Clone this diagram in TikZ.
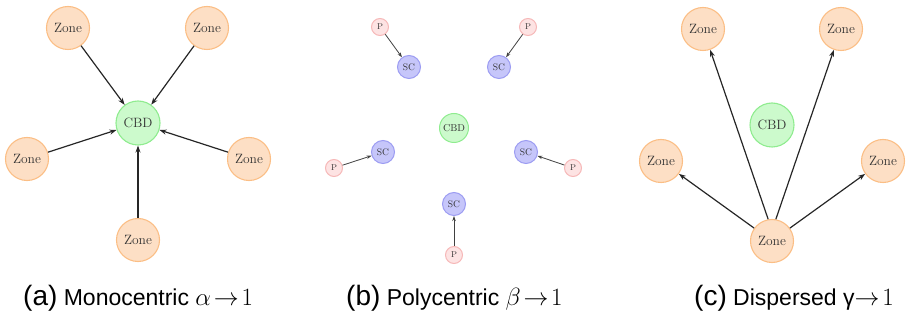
\documentclass[tikz,border=0pt]{standalone}
\usepackage{fontspec}
\usetikzlibrary{arrows.meta}
\newfontfamily\capfont{Liberation Sans}
\definecolor{zfill}{HTML}{FDDFC5}
\definecolor{zdraw}{HTML}{FBBE85}
\definecolor{gfill}{HTML}{CCFACC}
\definecolor{gdraw}{HTML}{8FEC8F}
\definecolor{pfill}{HTML}{FDE3E3}
\definecolor{pdraw}{HTML}{F6B8B8}
\definecolor{sfill}{HTML}{C6C6FA}
\definecolor{sdraw}{HTML}{9C9CF2}
\definecolor{txt}{HTML}{333333}
\tikzset{
  zone/.style={circle, fill=zfill, draw=zdraw, line width=1.1pt, minimum size=43pt, inner sep=0pt, text=txt, font=\fontsize{13.5}{14}\selectfont},
  cbd/.style={circle, fill=gfill, draw=gdraw, line width=1.1pt, minimum size=44pt, inner sep=0pt, text=txt, font=\fontsize{13.5}{14}\selectfont},
  cbdsmall/.style={circle, fill=gfill, draw=gdraw, line width=1pt, minimum size=29pt, inner sep=0pt, text=txt, font=\fontsize{10}{11}\selectfont},
  scnode/.style={circle, fill=sfill, draw=sdraw, line width=1pt, minimum size=23pt, inner sep=0pt, text=txt, font=\fontsize{9.5}{10}\selectfont},
  pnode/.style={circle, fill=pfill, draw=pdraw, line width=1pt, minimum size=17pt, inner sep=0pt, text=txt, font=\fontsize{8.5}{9}\selectfont},
  bigarrow/.style={-{Stealth[length=7pt,width=5pt]}, line width=1.2pt, draw=black!85},
  smallarrow/.style={-{Stealth[length=5pt,width=3.5pt]}, line width=0.8pt, draw=black!75},
  caption/.style={anchor=base west, inner sep=0pt, text=black}
}
\newcommand{\capbig}{\capfont\fontsize{28}{30}\selectfont}
\newcommand{\capsmall}{\capfont\fontsize{23}{26}\selectfont}
\begin{document}
\begin{tikzpicture}[x=1pt,y=-1pt]
\useasboundingbox (0,0) rectangle (913,320);
% (a)
\node[cbd] (aC) at (138,123) {CBD};
\node[zone] (aZ1) at (68,28) {Zone};
\node[zone] (aZ2) at (207,28) {Zone};
\node[zone] (aZ3) at (27,159) {Zone};
\node[zone] (aZ4) at (249,159) {Zone};
\node[zone] (aZ5) at (138,240) {Zone};
\foreach \z in {aZ1,aZ2,aZ3,aZ4,aZ5} \draw[bigarrow] (\z) -- (aC);
% (b)
\node[cbdsmall] (bC) at (454,128) {CBD};
\node[scnode] (bS1) at (409,67) {SC};
\node[scnode] (bS2) at (499,67) {SC};
\node[scnode] (bS3) at (383,152) {SC};
\node[scnode] (bS4) at (526,152) {SC};
\node[scnode] (bS5) at (454,204) {SC};
\node[pnode] (bP1) at (380,27) {P};
\node[pnode] (bP2) at (528,27) {P};
\node[pnode] (bP3) at (334,168) {P};
\node[pnode] (bP4) at (573,168) {P};
\node[pnode] (bP5) at (454,255) {P};
\foreach \i in {1,...,5} \draw[smallarrow] (bP\i) -- (bS\i);
% (c)
\node[cbd] (cC) at (772,125) {CBD};
\node[zone] (cZ1) at (703,29) {Zone};
\node[zone] (cZ2) at (841,29) {Zone};
\node[zone] (cZ3) at (661,161) {Zone};
\node[zone] (cZ4) at (883,161) {Zone};
\node[zone] (cZ5) at (772,241) {Zone};
\draw[bigarrow] (cZ5.100) -- (cZ1);
\draw[bigarrow] (cZ5.80) -- (cZ2);
\draw[bigarrow] (cZ5) -- (cZ3);
\draw[bigarrow] (cZ5) -- (cZ4);
% captions
\node[caption] (capA) at (23,306) {\capbig (a)\capsmall{} Monocentric $\alpha\!\rightarrow\!1$};
\node[caption] (capB) at (346,306) {\capbig (b)\capsmall{} Polycentric $\beta\!\rightarrow\!1$};
\node[caption] (capC) at (694,306) {\capbig (c)\capsmall{} Dispersed γ$\rightarrow\!1$};
\end{tikzpicture}
\end{document}
